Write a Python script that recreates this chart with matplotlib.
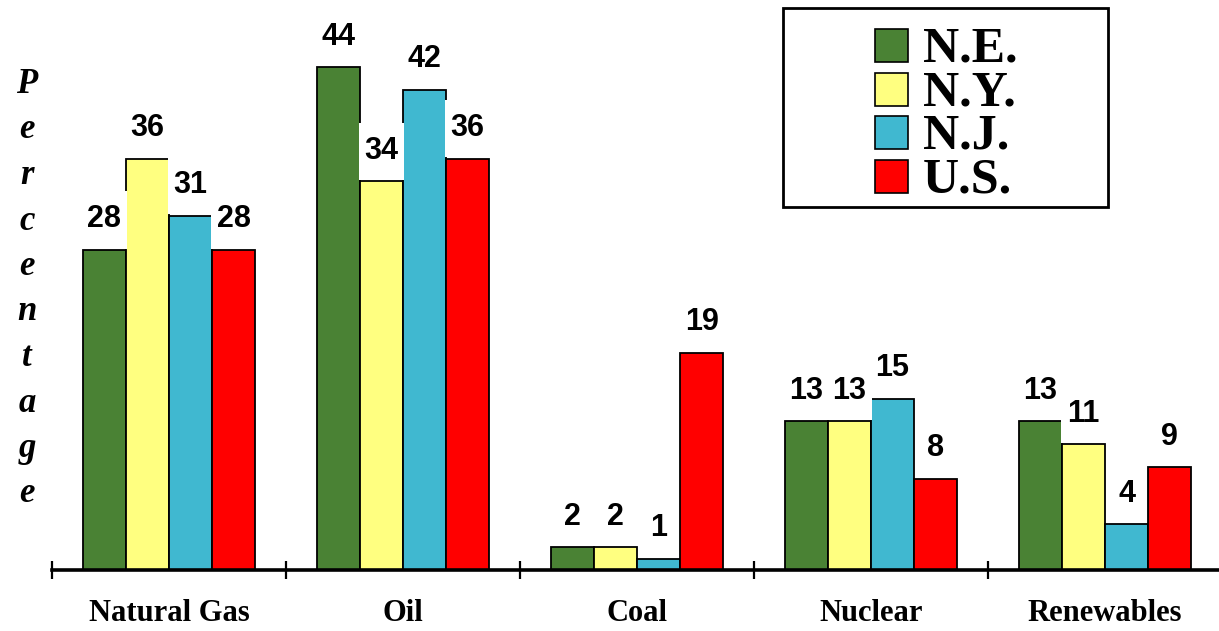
import numpy as np
import matplotlib
matplotlib.use("Agg")
import matplotlib.pyplot as plt
from matplotlib.patches import Rectangle

# Energy mix shares (%) by fuel for each region
FUELS = ["Natural Gas", "Oil", "Coal", "Nuclear", "Renewables"]
REGIONS = ["N.E.", "N.Y.", "N.J.", "U.S."]
NE = [28, 44, 2, 13, 13]
NY = [36, 34, 2, 13, 11]
NJ = [31, 42, 1, 15, 4]
US = [28, 36, 19, 8, 9]
COLORS = ["#4a8234", "#ffff80", "#40b8d0", "#ff0000"]

W, H = 1219, 631


def fxy(x, y):
    """pixel (from top-left) -> figure fraction"""
    return x / W, 1 - y / H


fig = plt.figure(figsize=(W / 100, H / 100), dpi=100)
ax = fig.add_axes([52 / W, 61 / H, 1170 / W, 48 * 11.43 / H])

x = np.arange(len(FUELS))
bw = 0.184
series = [NE, NY, NJ, US]
for i, (vals, col) in enumerate(zip(series, COLORS)):
    pos = x + (i - 1.5) * bw
    ax.bar(pos, vals, width=bw, color=col, edgecolor="black", lw=1.3, zorder=2)
    for p, v in zip(pos, vals):
        # white plate behind the value label, as wide as the number
        pw = bw * 1.04 if v >= 10 else bw * 0.55
        ax.bar(p, 5.0, bottom=v + 0.12, width=pw, color="white", lw=0, zorder=3)
        ax.annotate(f"{v}", (p, v), xytext=(0, 22), textcoords="offset points",
                    ha="center", va="center", fontsize=22, fontweight="bold",
                    family="Liberation Sans", zorder=4)

ax.set_xlim(-0.5, len(FUELS) - 0.5)
ax.set_ylim(0, 48)
for s in ("left", "top", "right"):
    ax.spines[s].set_visible(False)
ax.spines["bottom"].set_linewidth(2.6)
ax.set_yticks([])

ax.set_xticks(np.arange(len(FUELS) + 1) - 0.5)
ax.set_xticklabels([])
ax.tick_params(axis="x", which="major", direction="inout", length=13, width=1.6)
ax.set_xticks(x, minor=True)
ax.set_xticklabels(FUELS, minor=True, fontsize=22, fontweight="bold",
                   family="Liberation Serif")
ax.tick_params(axis="x", which="minor", length=0, pad=21)

# stacked y label
for k, ch in enumerate("Percentage"):
    fig.text(*fxy(27, 93 + 45.5 * k), ch, ha="center", va="baseline",
             fontsize=25, fontweight="bold", style="italic",
             family="Liberation Serif")

# legend box
x0, y0 = fxy(783, 207)
fig.patches.append(Rectangle((x0, y0), 325 / W, 199 / H, transform=fig.transFigure,
                             facecolor="white", edgecolor="black", lw=2.0, zorder=5))
for i, (name, col) in enumerate(zip(REGIONS, COLORS)):
    top = 29 + 43.5 * i
    px0, py0 = fxy(875, top + 33)
    fig.patches.append(Rectangle((px0, py0), 33 / W, 33 / H, transform=fig.transFigure,
                                 facecolor=col, edgecolor="black", lw=1.2, zorder=6))
    fig.text(*fxy(923, top + 33), name, ha="left", va="baseline", fontsize=36,
             fontweight="bold", family="Liberation Serif", zorder=6)

fig.savefig("out.png", dpi=100)
